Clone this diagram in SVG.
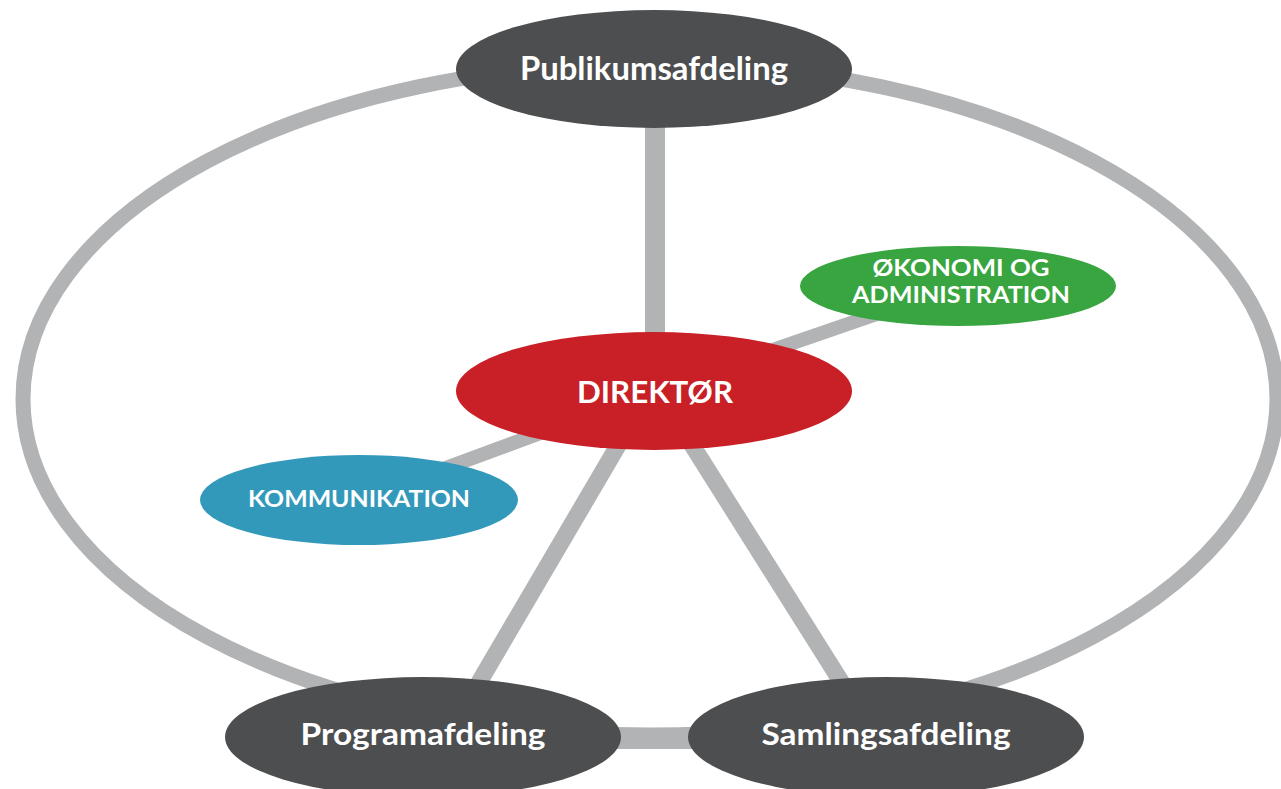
<svg xmlns="http://www.w3.org/2000/svg" width="1281" height="789" viewBox="0 0 1281 789">
<style>
.c{stroke:#b2b3b5;fill:none;stroke-linecap:butt}
.t{fill:#ffffff;font-family:Lato,"Open Sans","Liberation Sans",sans-serif;font-weight:700;text-anchor:middle}
.dark{fill:#4d4e50}
</style>
<rect width="1281" height="789" fill="#ffffff"/>
<g id="connectors">
<ellipse class="c" cx="650" cy="399" rx="627" ry="336" stroke-width="15"/>
<line class="c" x1="655" y1="69" x2="655" y2="391" stroke-width="20"/>
<line class="c" x1="654" y1="391" x2="958" y2="286" stroke-width="14"/>
<line class="c" x1="654" y1="391" x2="359" y2="500" stroke-width="14"/>
<line class="c" x1="650" y1="391" x2="447" y2="737" stroke-width="17"/>
<line class="c" x1="658" y1="391" x2="876" y2="737" stroke-width="17"/>
<line class="c" x1="422" y1="739" x2="886" y2="739" stroke-width="20"/>
</g>
<g id="publikumsafdeling">
<ellipse class="dark" cx="654" cy="69" rx="198" ry="59"/>
<text class="t" x="654" y="80" font-size="32" textLength="268" lengthAdjust="spacingAndGlyphs">Publikumsafdeling</text>
</g>
<g id="direktor">
<ellipse cx="654" cy="391" rx="198" ry="59" fill="#c91f26"/>
<text class="t" x="655" y="403" font-size="31" textLength="156" lengthAdjust="spacingAndGlyphs">DIREKTØR</text>
</g>
<g id="okonomi">
<ellipse cx="958" cy="286" rx="158" ry="40" fill="#38a540"/>
<text class="t" x="961" y="276" font-size="22" textLength="177" lengthAdjust="spacingAndGlyphs">ØKONOMI OG</text>
<text class="t" x="961" y="303" font-size="22" textLength="218" lengthAdjust="spacingAndGlyphs">ADMINISTRATION</text>
</g>
<g id="kommunikation">
<ellipse cx="359" cy="500" rx="159" ry="45" fill="#3399bb"/>
<text class="t" x="359" y="507" font-size="23" textLength="222" lengthAdjust="spacingAndGlyphs">KOMMUNIKATION</text>
</g>
<g id="programafdeling">
<ellipse class="dark" cx="423" cy="737" rx="198" ry="60"/>
<text class="t" x="423" y="745" font-size="31" textLength="245" lengthAdjust="spacingAndGlyphs">Programafdeling</text>
</g>
<g id="samlingsafdeling">
<ellipse class="dark" cx="886" cy="737" rx="198" ry="60"/>
<text class="t" x="886" y="745" font-size="31" textLength="249" lengthAdjust="spacingAndGlyphs">Samlingsafdeling</text>
</g>
</svg>
